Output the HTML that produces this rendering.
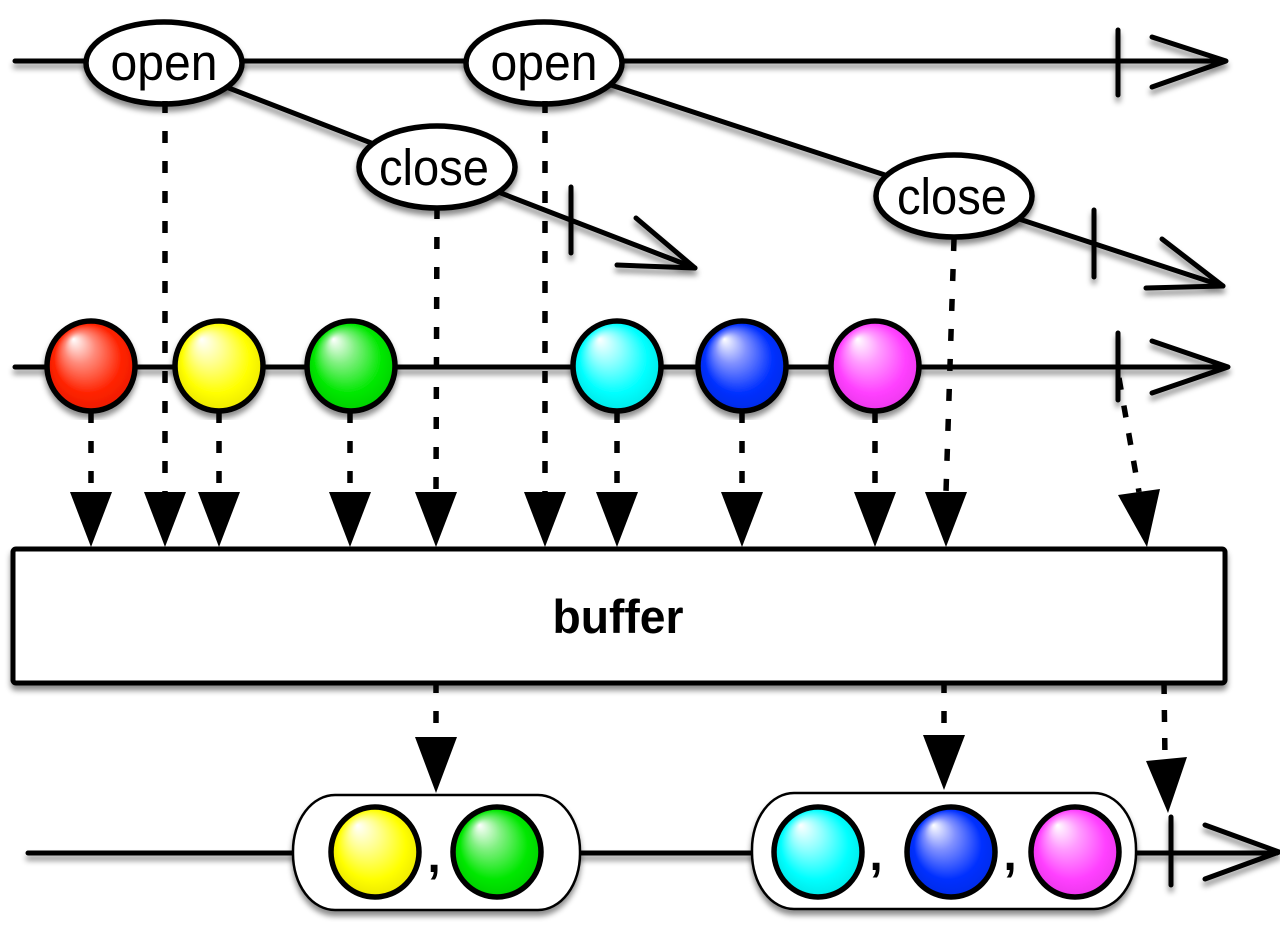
<!DOCTYPE html>
<html><head><meta charset="utf-8"><style>html,body{margin:0;padding:0;background:#fff}svg{display:block}</style></head>
<body>
<svg width="1280" height="940" viewBox="0 0 1280 940" xmlns="http://www.w3.org/2000/svg">
<defs>
<filter id="sh" x="-5%" y="-5%" width="110%" height="115%">
<feDropShadow dx="0" dy="5" stdDeviation="3" flood-color="#000" flood-opacity="0.45"/>
</filter>
<radialGradient id="gR" cx="0.6" cy="0.6" r="0.7" fx="0.3" fy="0.2"><stop offset="0" stop-color="#fff"/><stop offset="0.25" stop-color="#ff8a7a"/><stop offset="0.55" stop-color="#ff2200"/><stop offset="0.85" stop-color="#e01800"/><stop offset="1" stop-color="#8a1000"/></radialGradient>
<radialGradient id="gY" cx="0.6" cy="0.6" r="0.7" fx="0.3" fy="0.2"><stop offset="0" stop-color="#fff"/><stop offset="0.25" stop-color="#ffff90"/><stop offset="0.55" stop-color="#ffff00"/><stop offset="0.85" stop-color="#e0d800"/><stop offset="1" stop-color="#7a6a00"/></radialGradient>
<radialGradient id="gG" cx="0.6" cy="0.6" r="0.7" fx="0.3" fy="0.2"><stop offset="0" stop-color="#fff"/><stop offset="0.25" stop-color="#80f080"/><stop offset="0.55" stop-color="#00e800"/><stop offset="0.85" stop-color="#00c000"/><stop offset="1" stop-color="#005a00"/></radialGradient>
<radialGradient id="gC" cx="0.6" cy="0.6" r="0.7" fx="0.3" fy="0.2"><stop offset="0" stop-color="#fff"/><stop offset="0.25" stop-color="#90ffff"/><stop offset="0.55" stop-color="#00ffff"/><stop offset="0.85" stop-color="#00d8d8"/><stop offset="1" stop-color="#007878"/></radialGradient>
<radialGradient id="gB" cx="0.6" cy="0.6" r="0.7" fx="0.3" fy="0.2"><stop offset="0" stop-color="#fff"/><stop offset="0.25" stop-color="#8090ff"/><stop offset="0.55" stop-color="#0030ff"/><stop offset="0.85" stop-color="#0028d8"/><stop offset="1" stop-color="#001070"/></radialGradient>
<radialGradient id="gM" cx="0.6" cy="0.6" r="0.7" fx="0.3" fy="0.2"><stop offset="0" stop-color="#fff"/><stop offset="0.25" stop-color="#ff9cff"/><stop offset="0.55" stop-color="#ff40ff"/><stop offset="0.85" stop-color="#e030e0"/><stop offset="1" stop-color="#802080"/></radialGradient>
</defs>

<g filter="url(#sh)" stroke="#000" stroke-width="5" fill="none" stroke-linecap="round" stroke-linejoin="round">
  <line x1="15" y1="61" x2="1225" y2="61"/>
  <line x1="1118" y1="30" x2="1118" y2="95"/>
  <polyline points="1152,37 1226,61 1152,87"/>
  <line x1="164" y1="63" x2="695" y2="268"/>
  <line x1="571" y1="187" x2="571" y2="253"/>
  <polyline points="636,218 695,268 617,265"/>
  <line x1="544" y1="63" x2="1223" y2="286"/>
  <line x1="1094" y1="210" x2="1094" y2="277"/>
  <polyline points="1162,239 1223,286 1146,288"/>
  <line x1="15" y1="367" x2="1225" y2="367"/>
  <line x1="1118" y1="333" x2="1118" y2="400"/>
  <polyline points="1152,341 1228,367 1152,393"/>
  <line x1="28" y1="853" x2="1277" y2="853"/>
  <line x1="1171" y1="817" x2="1171" y2="885"/>
  <polyline points="1205,825 1279,852 1205,879"/>
</g>

<g filter="url(#sh)" stroke="#000" stroke-width="5.5" fill="#fff">
  <ellipse cx="164" cy="63" rx="78" ry="41"/>
  <ellipse cx="544" cy="63" rx="78" ry="41"/>
  <ellipse cx="437" cy="167" rx="78" ry="41"/>
  <ellipse cx="954" cy="196" rx="78" ry="41"/>
</g>
<g font-family="'Liberation Sans', Helvetica, Arial, sans-serif" font-size="51" fill="#000" text-anchor="middle">
  <text x="164" y="80" textLength="107" lengthAdjust="spacingAndGlyphs">open</text>
  <text x="544" y="80" textLength="107" lengthAdjust="spacingAndGlyphs">open</text>
  <text x="434" y="185" textLength="110" lengthAdjust="spacingAndGlyphs">close</text>
  <text x="952" y="214" textLength="110" lengthAdjust="spacingAndGlyphs">close</text>
</g>

<g filter="url(#sh)" stroke="#000" stroke-width="5.5">
  <ellipse cx="91" cy="366" rx="44" ry="45" fill="url(#gR)"/>
  <ellipse cx="219" cy="366" rx="44" ry="45" fill="url(#gY)"/>
  <ellipse cx="351" cy="366" rx="44" ry="45" fill="url(#gG)"/>
  <ellipse cx="617" cy="366" rx="44" ry="45" fill="url(#gC)"/>
  <ellipse cx="742" cy="366" rx="44" ry="45" fill="url(#gB)"/>
  <ellipse cx="875" cy="366" rx="44" ry="45" fill="url(#gM)"/>
</g>

<g stroke="#000" stroke-width="5.5" stroke-dasharray="12 18" fill="none">
  <line x1="165" y1="101" x2="165" y2="492"/>
  <line x1="545" y1="101" x2="545" y2="492"/>
  <line x1="437" y1="207" x2="436" y2="492"/>
  <line x1="954" y1="239" x2="946" y2="492"/>
  <line x1="91" y1="411" x2="91" y2="492"/>
  <line x1="219" y1="411" x2="219" y2="492"/>
  <line x1="350" y1="411" x2="350" y2="492"/>
  <line x1="617" y1="411" x2="617" y2="492"/>
  <line x1="742" y1="411" x2="742" y2="492"/>
  <line x1="875" y1="411" x2="875" y2="492"/>
  <line x1="1119" y1="378" x2="1139" y2="492" stroke-dasharray="12 16"/>
  <line x1="436" y1="681" x2="436" y2="738"/>
  <line x1="944" y1="681" x2="944" y2="736"/>
  <line x1="1164" y1="682" x2="1165" y2="760" stroke-dasharray="12 16"/>
</g>

<g fill="#000">
  <polygon points="70,492 112,492 91,547"/>
  <polygon points="144,492 186,492 165,547"/>
  <polygon points="198,492 240,492 219,547"/>
  <polygon points="329,492 371,492 350,547"/>
  <polygon points="415,492 457,492 436,547"/>
  <polygon points="524,492 566,492 545,547"/>
  <polygon points="596,492 638,492 617,547"/>
  <polygon points="721,492 763,492 742,547"/>
  <polygon points="854,492 896,492 875,547"/>
  <polygon points="925,492 967,492 946,547"/>
  <polygon points="1118,495 1160,489 1147,547"/>
  <polygon points="415,737 457,737 436,793"/>
  <polygon points="923,735 965,735 944,790"/>
  <polygon points="1146,761 1187,757 1168,813"/>
</g>

<rect x="13" y="549" width="1212" height="134" rx="3" ry="3" fill="#fff" stroke="#000" stroke-width="5" filter="url(#sh)"/>
<text x="618" y="633" font-family="'Liberation Sans', Helvetica, Arial, sans-serif" font-size="47" font-weight="bold" text-anchor="middle" textLength="131" lengthAdjust="spacingAndGlyphs">buffer</text>

<g filter="url(#sh)" stroke="#000" stroke-width="2.5" fill="#fff">
  <rect x="293" y="795" width="287" height="115" rx="42" ry="56"/>
  <rect x="752" y="793" width="384" height="116" rx="42" ry="56"/>
</g>
<g stroke="#000" stroke-width="5.5">
  <ellipse cx="375" cy="852" rx="44" ry="45" fill="url(#gY)"/>
  <ellipse cx="497" cy="852" rx="44" ry="45" fill="url(#gG)"/>
  <ellipse cx="818" cy="852" rx="44" ry="45" fill="url(#gC)"/>
  <ellipse cx="951" cy="852" rx="44" ry="45" fill="url(#gB)"/>
  <ellipse cx="1075" cy="852" rx="44" ry="45" fill="url(#gM)"/>
</g>
<g font-family="'Liberation Sans', Helvetica, Arial, sans-serif" font-size="48" font-weight="bold" text-anchor="middle">
  <text x="434" y="872">,</text>
  <text x="876" y="870">,</text>
  <text x="1010" y="870">,</text>
</g>
</svg>
</body></html>
